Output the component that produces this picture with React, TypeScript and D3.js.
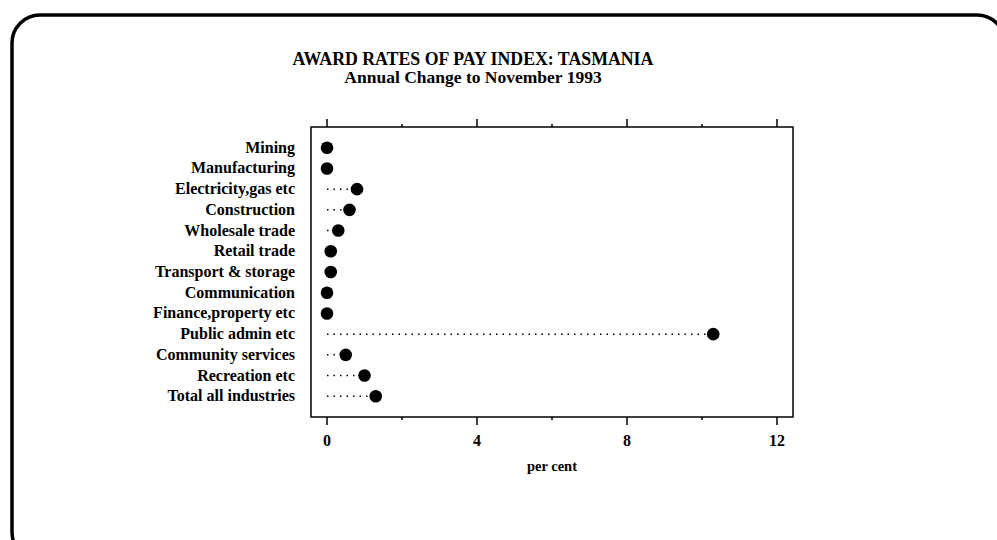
import React from "react";
import * as d3 from "d3";

const categories = [
  "Mining",
  "Manufacturing",
  "Electricity,gas etc",
  "Construction",
  "Wholesale trade",
  "Retail trade",
  "Transport & storage",
  "Communication",
  "Finance,property etc",
  "Public admin etc",
  "Community services",
  "Recreation etc",
  "Total all industries",
];
const values = [0, 0, 0.8, 0.6, 0.3, 0.1, 0.1, 0, 0, 10.3, 0.5, 1.0, 1.3];
const majorTicks = [0, 4, 8, 12];
const minorTicks = [2, 6, 10];
const title1 = "AWARD RATES OF PAY INDEX: TASMANIA";
const title2 = "Annual Change to November 1993";
const xLabel = "per cent";

const W = 997;
const H = 540;
const FONT = "'Liberation Serif', 'Times New Roman', serif";

export default function App() {
  const left = 311;
  const right = 793;
  const top = 127;
  const bottom = 417;
  const x = d3.scaleLinear().domain([0, 12]).range([327, 777]);
  const y = d3.scalePoint<string>().domain(categories).range([top, bottom]).padding(1);

  return (
    <div style={{ position: "absolute", left: 0, top: 0 }}>
      <svg width={W} height={H} style={{ display: "block", background: "#fff" }}>
        <rect x={12} y={15} width={993} height={545} rx={28} ry={28} fill="none" stroke="#000" strokeWidth={3.5} />
        <text x={473} y={65} textAnchor="middle" fontFamily={FONT} fontWeight="bold" fontSize={17.8}>
          {title1}
        </text>
        <text x={473} y={83} textAnchor="middle" fontFamily={FONT} fontWeight="bold" fontSize={17.5}>
          {title2}
        </text>
        <rect x={left} y={top} width={right - left} height={bottom - top} fill="none" stroke="#000" strokeWidth={1.5} />
        {majorTicks.map((t) => (
          <line key={"tm" + t} x1={x(t)} x2={x(t)} y1={top} y2={top - 8} stroke="#000" strokeWidth={1.5} />
        ))}
        {minorTicks.map((t) => (
          <line key={"tn" + t} x1={x(t)} x2={x(t)} y1={top} y2={top - 3} stroke="#000" strokeWidth={1.5} />
        ))}
        {majorTicks.map((t) => (
          <line key={"bm" + t} x1={x(t)} x2={x(t)} y1={bottom} y2={bottom + 8} stroke="#000" strokeWidth={1.5} />
        ))}
        {minorTicks.map((t) => (
          <line key={"bn" + t} x1={x(t)} x2={x(t)} y1={bottom} y2={bottom + 3} stroke="#000" strokeWidth={1.5} />
        ))}
        {majorTicks.map((t) => (
          <text key={"bl" + t} x={x(t)} y={446} textAnchor="middle" fontFamily={FONT} fontWeight="bold" fontSize={16}>
            {t}
          </text>
        ))}
        <text x={x(6)} y={471} textAnchor="middle" fontFamily={FONT} fontWeight="bold" fontSize={14.5}>
          {xLabel}
        </text>
        {categories.map((c, i) => {
          const yy = y(c) as number;
          return (
            <g key={c}>
              <text x={295} y={yy + 5} textAnchor="end" fontFamily={FONT} fontWeight="bold" fontSize={16}>
                {c}
              </text>
              {values[i] > 0.05 && (
                <line
                  x1={x(0)}
                  x2={x(values[i])}
                  y1={yy}
                  y2={yy}
                  stroke="#000"
                  strokeWidth={1.5}
                  strokeDasharray="1.5,5"
                />
              )}
              <circle cx={x(values[i])} cy={yy} r={6.3} fill="#000" />
            </g>
          );
        })}
      </svg>
    </div>
  );
}
